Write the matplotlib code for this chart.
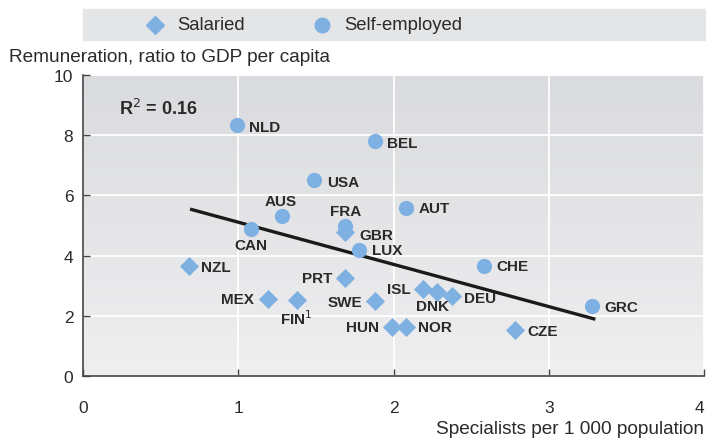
import matplotlib
matplotlib.use("Agg")
import matplotlib.pyplot as plt
import numpy as np
from matplotlib import font_manager
from matplotlib.colors import LinearSegmentedColormap

# ---- data ----
sal_names = ["GBR", "NZL", "PRT", "MEX", "FIN", "SWE", "HUN", "NOR", "ISL", "DNK", "DEU", "CZE"]
sal_x = [1.69, 0.68, 1.69, 1.19, 1.38, 1.88, 1.99, 2.08, 2.19, 2.28, 2.38, 2.78]
sal_y = [4.77, 3.67, 3.27, 2.57, 2.53, 2.50, 1.63, 1.63, 2.90, 2.80, 2.67, 1.53]

self_names = ["NLD", "BEL", "USA", "AUS", "CAN", "FRA", "LUX", "AUT", "CHE", "GRC"]
self_x = [0.99, 1.88, 1.49, 1.28, 1.08, 1.69, 1.78, 2.08, 2.58, 3.28]
self_y = [8.33, 7.80, 6.50, 5.30, 4.87, 4.97, 4.17, 5.57, 3.67, 2.33]

trend_x = [0.70, 3.29]
trend_y = [5.53, 1.90]

x_ticks = [0, 1, 2, 3, 4]
y_ticks = [0, 2, 4, 6, 8, 10]
r2_text = "R$^2$ = 0.16"

# ---- style ----
avail = {f.name for f in font_manager.fontManager.ttflist}
fam = "Liberation Sans Narrow" if "Liberation Sans Narrow" in avail else "Liberation Sans"
plt.rcParams["font.family"] = [fam, "DejaVu Sans"]

blue = "#7eb0e2"
txt = "#2a2a2a"

# label placement (offset in points, ha, va)
lab_pos = {
    "NLD": (9, -1, "left", "center"), "BEL": (9, -1, "left", "center"),
    "USA": (9, -1, "left", "center"), "AUS": (-1, 6, "center", "bottom"),
    "CAN": (0, -6, "center", "top"), "FRA": (0, 6, "center", "bottom"),
    "GBR": (10, -2, "left", "center"), "LUX": (9, 0, "left", "center"),
    "AUT": (9, 0, "left", "center"), "CHE": (9, 0, "left", "center"),
    "GRC": (9, -1, "left", "center"), "CZE": (9, -1, "left", "center"),
    "HUN": (-9, 0, "right", "center"), "NOR": (9, 0, "left", "center"),
    "ISL": (-9, 0, "right", "center"), "DNK": (-3, -5, "center", "top"),
    "DEU": (8, -2, "left", "center"), "SWE": (-9, -1, "right", "center"),
    "PRT": (-9, 0, "right", "center"), "NZL": (9, -1, "left", "center"),
    "MEX": (-10, 0, "right", "center"), "FIN": (-1, -6, "center", "top"),
}
disp = {"FIN": "FIN$^{1}$"}

fig = plt.figure(figsize=(7.06, 4.39), dpi=100)
W, H = 706, 439
ax = fig.add_axes([83 / W, 1 - 377 / H, (704 - 83) / W, (377 - 76) / H])

# gradient background (darker at top)
grad = np.linspace(0, 1, 256).reshape(-1, 1)
cm = LinearSegmentedColormap.from_list("bg", ["#dadbde", "#efeff0"])
ax.imshow(grad, aspect="auto", cmap=cm, extent=[0, 4, 0, 10], origin="upper", zorder=0)

ax.set_xlim(0, 4)
ax.set_ylim(0, 10)
ax.set_xticks(x_ticks)
ax.set_yticks(y_ticks)
ax.grid(True, color="white", linewidth=1.3, zorder=1)
ax.set_axisbelow(True)
for s in ["top", "right"]:
    ax.spines[s].set_visible(False)
for s in ["left", "bottom"]:
    ax.spines[s].set_color("#444444")
    ax.spines[s].set_linewidth(1.2)
ax.tick_params(direction="in", length=5, width=1.0, color="#444444",
               labelsize=12.5, labelcolor=txt)
ax.tick_params(axis="y", pad=7)
ax.tick_params(axis="x", pad=17)
xl = ax.get_xticklabels()
xl[-1].set_horizontalalignment("right")
xl[-1].set_x(4)

ax.plot(trend_x, trend_y, color="#1a1a1a", linewidth=2.4, zorder=3)
ax.scatter(self_x, self_y, marker="o", s=120, color=blue, zorder=4, linewidths=0)
ax.scatter(sal_x, sal_y, marker="D", s=95, color=blue, zorder=4, linewidths=0)

for n, x, y in list(zip(sal_names, sal_x, sal_y)) + list(zip(self_names, self_x, self_y)):
    dx, dy, ha, va = lab_pos[n]
    ax.annotate(disp.get(n, n), (x, y), xytext=(dx, dy), textcoords="offset points",
                ha=ha, va=va, fontsize=11, fontweight="bold", color=txt, zorder=5)

ax.text(0.23, 8.9, r2_text, fontsize=13, fontweight="bold", color=txt,
        ha="left", va="center")

# legend band
fig.patches.append(plt.Rectangle((83 / W, 1 - 41 / H), (706 - 83) / W, 31 / H,
                                 transform=fig.transFigure, color="#e4e5e7", zorder=0))
lg_y = 1 - 26 / H
fig.lines.append(plt.Line2D([155 / W], [lg_y], marker="D", markersize=9.5, color=blue,
                            linestyle="none", transform=fig.transFigure))
fig.lines.append(plt.Line2D([322 / W], [lg_y], marker="o", markersize=10.5, color=blue,
                            linestyle="none", transform=fig.transFigure))
fig.text(177 / W, lg_y, "Salaried", fontsize=13.3, color=txt, va="center", ha="left")
fig.text(344 / W, lg_y, "Self-employed", fontsize=13.3, color=txt, va="center", ha="left")

fig.text(9 / W, 1 - 57 / H, "Remuneration, ratio to GDP per capita", fontsize=13.7,
         color=txt, va="center", ha="left")
fig.text(704 / W, 1 - 430 / H, "Specialists per 1 000 population", fontsize=13.7,
         color=txt, va="center", ha="right")

fig.savefig("out.png", dpi=100, facecolor="white")
